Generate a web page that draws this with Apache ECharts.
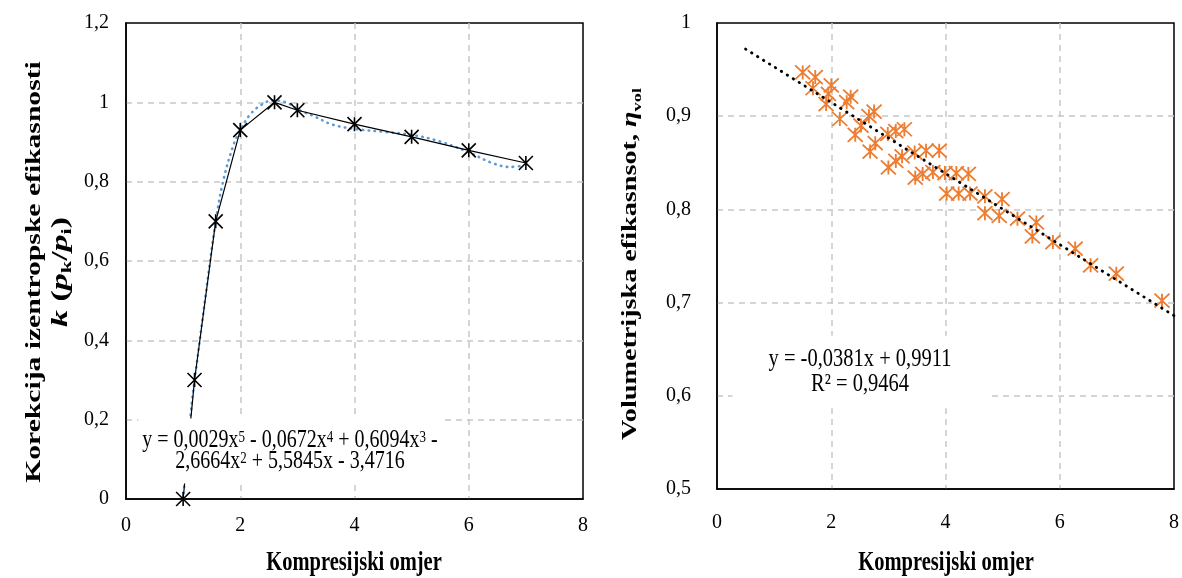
<!DOCTYPE html>
<html>
<head>
<meta charset="utf-8">
<script src="https://cdn.jsdelivr.net/npm/echarts/dist/echarts.min.js"></script>
<style>
html,body{margin:0;padding:0;background:#ffffff;}
#chart{width:1182px;height:578px;}
</style>
</head>
<body>
<div id="chart"></div>
<script>
// ---------- Left chart data ----------
const kX = [1, 1.2, 1.57, 2, 2.6, 3, 4, 5, 6, 7];
const kY = [0, 0.3, 0.7, 0.93, 1.0, 0.98, 0.945, 0.913, 0.879, 0.847];
// polynomial trendline
const kTrendX = [1.0, 1.15, 1.22, 1.40, 1.55, 1.69, 1.87, 2.0, 2.16, 2.33, 2.57, 2.8, 3.03, 3.32, 3.61, 4.0, 4.49, 5.0, 5.48, 6.0, 6.41, 6.71, 6.94];
const kTrendY = [0.0, 0.24, 0.32, 0.52, 0.68, 0.795, 0.888, 0.93, 0.967, 0.99, 1.005, 1.0, 0.981, 0.963, 0.944, 0.933, 0.926, 0.918, 0.902, 0.874, 0.847, 0.837, 0.840];
const kEquation = '{n|y = 0,0029x}{p|5}{n| - 0,0672x}{p|4}{n| + 0,6094x}{p|3}{n| -}\n{n|2,6664x}{p|2}{n| + 5,5845x - 3,4716}';

// ---------- Right chart data ----------
const volX = [1.50, 1.72, 1.68, 2.00, 1.95, 1.91, 2.34, 2.27, 2.15, 2.42, 2.52, 2.66, 2.75, 2.68, 2.77,
  2.99, 3.13, 3.28, 3.00, 3.13, 3.24, 3.46, 3.66, 3.89, 3.47, 3.60, 3.78, 3.99, 4.19, 4.40,
  4.02, 4.23, 4.43, 4.69, 4.99, 4.69, 4.94, 5.26, 5.59, 5.52, 5.88, 6.27, 6.54, 6.99, 7.79];
const volY = [0.947, 0.942, 0.930, 0.933, 0.924, 0.913, 0.921, 0.915, 0.897, 0.880, 0.890, 0.900, 0.905, 0.862, 0.871,
  0.881, 0.884, 0.886, 0.845, 0.852, 0.857, 0.861, 0.863, 0.863, 0.834, 0.838, 0.840, 0.839, 0.839, 0.838,
  0.817, 0.817, 0.817, 0.814, 0.811, 0.796, 0.793, 0.790, 0.786, 0.771, 0.765, 0.758, 0.740, 0.731, 0.702];
const volTrendX = [0.5, 8.0];
const volTrendY = [0.972, 0.686];
const volEquation = '{n|y = -0,0381x + 0,9911}\n{n|R\u00b2 = 0,9464}';

// ---------- Titles ----------
const xTitle = 'Kompresijski omjer';
const leftYTitle = '{b|Korekcija izentropske efikasnosti}\n{bi2|k}{b2| (}{bi2|p}{s2|k}{b2|/}{bi2|p}{s2|i}{b2|)}';
const rightYTitle = '{b|Volumetrijska efikasnsot, }{bi|\u03b7}{s|vol}';

const FONT = 'Liberation Serif';
const zip = (a, b) => a.map((v, i) => [v, b[i]]);
const fmt = v => (Math.abs(v - Math.round(v)) < 1e-9 ? String(Math.round(v)) : v.toFixed(1).replace('.', ','));
const STAR = 'path://M0,0L10,10M10,0L0,10M5,0L5,10';

const gridLine = {show: true, showMinLine: false, showMaxLine: false, lineStyle: {color: '#c8c8c8', width: 1.5, type: [6, 5]}};
const axisLine = {show: true, onZero: false, lineStyle: {color: '#000', width: 1.5}};
const tickLabel = {fontFamily: FONT, fontSize: 20, color: '#000', formatter: fmt};
const titleRich = {
  b: {fontFamily: FONT, fontSize: 20, fontWeight: 'bold', fill: '#000', lineHeight: 27},
  bi: {fontFamily: FONT, fontSize: 20, fontWeight: 'bold', fontStyle: 'italic', fill: '#000', lineHeight: 27},
  s: {fontFamily: FONT, fontSize: 13, fontWeight: 'bold', fill: '#000', verticalAlign: 'bottom', lineHeight: 27},
  b2: {fontFamily: FONT, fontSize: 23, fontWeight: 'bold', fill: '#000', lineHeight: 27},
  bi2: {fontFamily: FONT, fontSize: 23, fontWeight: 'bold', fontStyle: 'italic', fill: '#000', lineHeight: 27},
  s2: {fontFamily: FONT, fontSize: 15, fontWeight: 'bold', fill: '#000', verticalAlign: 'bottom', lineHeight: 27}
};
const eqRich = {
  n: {fontFamily: FONT, fontSize: 20, fill: '#000'},
  p: {fontFamily: FONT, fontSize: 13, fill: '#000', verticalAlign: 'top'}
};

const chart = echarts.init(document.getElementById('chart'), null, {renderer: 'canvas'});
chart.setOption({
  backgroundColor: '#ffffff',
  animation: false,
  grid: [
    {left: 126, right: 599, top: 23, bottom: 79, show: true, borderColor: '#000', borderWidth: 1.5, backgroundColor: 'transparent'},
    {left: 717, right: 7, top: 23, bottom: 89, show: true, borderColor: '#000', borderWidth: 1.5, backgroundColor: 'transparent'}
  ],
  xAxis: [
    {gridIndex: 0, type: 'value', min: 0, max: 8, interval: 2, axisLine, axisTick: {show: false}, splitLine: gridLine,
      axisLabel: Object.assign({margin: 17}, tickLabel)},
    {gridIndex: 1, type: 'value', min: 0, max: 8, interval: 2, axisLine, axisTick: {show: false}, splitLine: gridLine,
      axisLabel: Object.assign({margin: 24}, tickLabel)}
  ],
  yAxis: [
    {gridIndex: 0, type: 'value', min: 0, max: 1.2, interval: 0.2, axisLine, axisTick: {show: false}, splitLine: gridLine,
      axisLabel: Object.assign({margin: 17}, tickLabel)},
    {gridIndex: 1, type: 'value', min: 0.5, max: 1, interval: 0.1, axisLine, axisTick: {show: false}, splitLine: gridLine,
      axisLabel: Object.assign({margin: 26}, tickLabel)}
  ],
  series: [
    {type: 'line', xAxisIndex: 0, yAxisIndex: 0, data: zip(kTrendX, kTrendY), smooth: 0.35, showSymbol: false, z: 2,
      lineStyle: {color: '#5b9bd5', width: 2.6, type: [0.5, 5.5], cap: 'round'}},
    {type: 'line', xAxisIndex: 0, yAxisIndex: 0, data: zip(kX, kY), symbol: STAR, symbolSize: 14, z: 3,
      lineStyle: {color: '#000', width: 1.2},
      itemStyle: {color: 'rgba(0,0,0,0)', borderColor: '#000', borderWidth: 1.6}},
    {type: 'scatter', xAxisIndex: 1, yAxisIndex: 1, data: zip(volX, volY), symbol: STAR, symbolSize: [15, 14], z: 3,
      itemStyle: {color: 'rgba(0,0,0,0)', borderColor: '#ed7d31', borderWidth: 1.8, opacity: 1}},
    {type: 'line', xAxisIndex: 1, yAxisIndex: 1, data: zip(volTrendX, volTrendY), showSymbol: false, z: 4,
      lineStyle: {color: '#000', width: 2.8, type: [0.5, 6.5], cap: 'round'}}
  ],
  graphic: [
    // axis titles
    {type: 'text', z: 100, x: 354, y: 563, scaleY: 1.35,
      style: {text: xTitle, font: 'bold 20.5px "Liberation Serif"', fill: '#000', align: 'center', verticalAlign: 'middle'}},
    {type: 'text', z: 100, x: 946, y: 563, scaleY: 1.35,
      style: {text: xTitle, font: 'bold 20.5px "Liberation Serif"', fill: '#000', align: 'center', verticalAlign: 'middle'}},
    {type: 'text', z: 100, x: 48, y: 272, rotation: Math.PI / 2, scaleX: 1.48,
      style: {text: leftYTitle, rich: titleRich, align: 'center', verticalAlign: 'middle'}},
    {type: 'text', z: 100, x: 631, y: 264, rotation: Math.PI / 2, scaleX: 1.41,
      style: {text: rightYTitle, rich: titleRich, align: 'center', verticalAlign: 'middle'}},
    // equations (white text boxes)
    {type: 'text', z: 100, x: 290, y: 451, scaleY: 1.25,
      style: {text: kEquation, rich: eqRich, align: 'center', verticalAlign: 'middle', lineHeight: 17,
        backgroundColor: '#ffffff', padding: [9, 4, 9, 4]}},
    {type: 'text', z: 100, x: 860, y: 372, scaleY: 1.25,
      style: {text: volEquation, rich: {n: {fontFamily: FONT, fontSize: 20.5, fill: '#000', lineHeight: 20}}, align: 'center', verticalAlign: 'middle',
        backgroundColor: '#ffffff', padding: [9, 36, 9, 36]}}
  ]
});
</script>
</body>
</html>
